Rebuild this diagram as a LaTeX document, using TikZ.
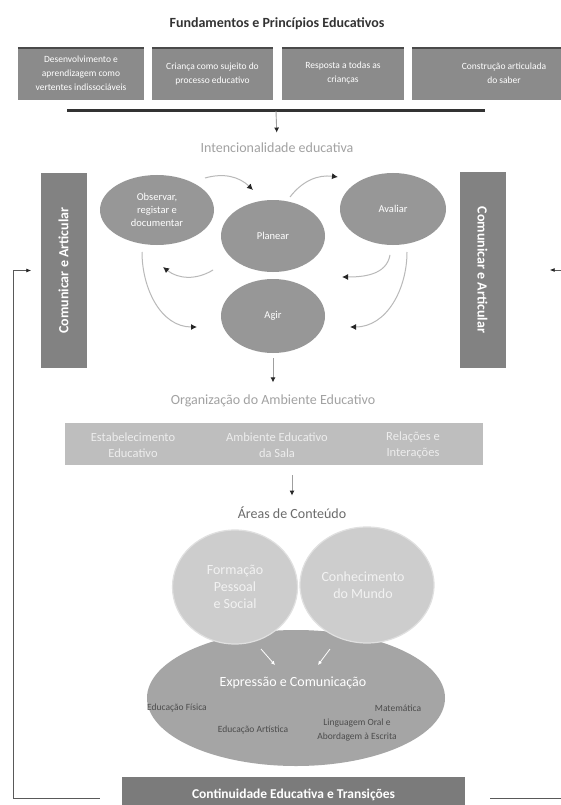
\documentclass[tikz,border=0pt]{standalone}
\usepackage{fontspec}
\setmainfont{Carlito}
\usetikzlibrary{shapes.geometric,arrows.meta,calc}
\definecolor{fundgray}{HTML}{8B8B8B}
\definecolor{stripegray}{HTML}{4A4A4A}
\definecolor{bargray}{HTML}{828282}
\definecolor{cycgray}{HTML}{979797}
\definecolor{orggray}{HTML}{BEBEBE}
\definecolor{areagray}{HTML}{CDCDCD}
\definecolor{exprgray}{HTML}{A5A5A5}
\definecolor{contgray}{HTML}{7B7B7B}
\definecolor{labgray}{HTML}{A2A2A2}
\begin{document}
\begin{tikzpicture}[x=1pt,y=-1pt,
    fund/.style={rectangle,fill=fundgray,text=white,minimum height=53pt,inner sep=1pt,align=center,font=\fontsize{9.5}{14}\selectfont},
    combar/.style={rectangle,fill=bargray,text=white,minimum width=195pt,minimum height=46pt,font=\fontsize{14}{16}\selectfont\bfseries},
    cyc/.style={ellipse,fill=cycgray,text=white,inner sep=0pt,align=center,font=\fontsize{10.5}{13}\selectfont},
    headlab/.style={text=labgray,font=\fontsize{14}{16}\selectfont},
    orgtext/.style={text=white!93!black,align=center,font=\fontsize{12.5}{16}\selectfont},
    area/.style={ellipse,fill=areagray,draw=white!88!black,line width=1.2pt,inner sep=0pt},
    arealab/.style={text=white!95!black,align=center,font=\fontsize{14}{17}\selectfont},
    sublab/.style={text=black!70,align=center,font=\fontsize{9.5}{15}\selectfont},
    flow/.style={draw=gray!75,line width=0.9pt,-{Latex[length=5pt,width=5pt,black!85]}},
    cycarrow/.style={draw=gray!55,line width=1pt,-{Latex[length=6pt,width=6pt,black!85]}},
    back/.style={draw=black!65,line width=0.8pt,-{Latex[length=5pt,width=4pt,black!85]}}]
  \useasboundingbox (0,0) rectangle (560,805);
  \fill[white] (0,0) rectangle (560,805);

  \node[font=\fontsize{14}{16}\selectfont\bfseries,text=black!80] (title) at (277,24) {Fundamentos e Princípios Educativos};
  \node[fund,minimum width=126pt] (fund1) at (81,73.5) {Desenvolvimento e\\aprendizagem como\\vertentes indissociáveis};
  \node[fund,minimum width=121pt] (fund2) at (212.5,73.5) {Criança como sujeito do\\processo educativo};
  \node[fund,minimum width=122pt] (fund3) at (343,73.5) {Resposta a todas as\\crianças};
  \node[fund,minimum width=184pt] (fund4) at (504,73.5) {Construção articulada\\do saber};
  \foreach \f in {fund1,fund2,fund3,fund4}
    \draw[stripegray,line width=2.5pt] ([yshift=-1.25pt]\f.north west) -- ([yshift=-1.25pt]\f.north east);
  \coordinate (lineL) at (67,111);
  \coordinate (lineR) at (485,111);
  \draw[black!80,line width=3pt] (lineL) -- (lineR);

  \node[headlab] (intlab) at (277,148) {Intencionalidade educativa};
  \draw[flow,shorten >=7pt] ($(lineL)!0.5!(lineR)$) -- (intlab.north);

  \node[combar,rotate=90] (comL) at (63.5,270.5) {Comunicar e Articular};
  \node[combar,rotate=-90] (comR) at (482.5,270) {Comunicar e Articular};

  \node[cyc,minimum width=114pt,minimum height=70pt] (obs) at (157,210) {Observar,\\registar e\\documentar};
  \node[cyc,minimum width=104pt,minimum height=72pt] (plan) at (273,236) {Planear};
  \node[cyc,minimum width=106pt,minimum height=72pt] (aval) at (393,209) {Avaliar};
  \node[cyc,minimum width=104pt,minimum height=74pt] (agir) at (273,316) {Agir};

  \draw[cycarrow] ([shift={(48,-32)}]obs.center) to[bend left=30] ([shift={(-20,-46)}]plan.center);
  \draw[cycarrow] ([shift={(17,-39)}]plan.center) to[bend left=30] ([shift={(-55,-32)}]aval.center);
  \draw[cycarrow] ([shift={(-60,34)}]plan.center) to[bend left=35] ([shift={(6,57)}]obs.center);
  \draw[cycarrow] ([shift={(-15,42)}]obs.center) to[out=-90,in=180] ([shift={(-76,11)}]agir.center);
  \draw[cycarrow] ([shift={(-3,46)}]aval.center) to[out=-100,in=0] ([shift={(69,-39)}]agir.center);
  \draw[cycarrow] ([shift={(14,43)}]aval.center) to[out=-90,in=0] ([shift={(77,11)}]agir.center);

  \node[headlab] (orglab) at (273,401) {Organização do Ambiente Educativo};
  \draw[flow,shorten <=5pt,shorten >=9pt] (agir.south) -- (agir.south |- orglab.north);

  \node[rectangle,fill=orggray,minimum width=418pt,minimum height=42pt] (orgbox) at (274,444) {};
  \node[orgtext] (est) at (133,445) {Estabelecimento\\Educativo};
  \node[orgtext] (amb) at (277,445) {Ambiente Educativo\\da Sala};
  \node[orgtext] (rel) at (413,445) {Relações e\\Interações};

  \node[headlab,text=black!58] (areas) at (292,513) {Áreas de Conteúdo};
  \draw[flow,shorten <=10pt,shorten >=8pt] (areas.north |- orgbox.south) -- (areas.north);

  \node[ellipse,fill=exprgray,inner sep=0pt,minimum width=298pt,minimum height=136pt] (expr) at (296,698) {};
  \node[area,minimum width=125pt,minimum height=114pt] (fps) at (235,587) {};
  \node[area,minimum width=134pt,minimum height=116pt] (cdm) at (367,585) {};
  \node[arealab] at (fps.center) {Formação\\Pessoal\\e Social};
  \node[arealab] at ([xshift=-4pt]cdm.center) {Conhecimento\\do Mundo};
  \draw[white,line width=0.8pt,-{Latex[length=4pt,width=4pt]}] ([shift={(26,62)}]fps.center) -- ([shift={(-21,-33)}]expr.center);
  \draw[white,line width=0.8pt,-{Latex[length=4pt,width=4pt]}] ([shift={(-37,64)}]cdm.center) -- ([shift={(22,-33)}]expr.center);

  \node[arealab,text=white] (exprlab) at (293,683) {Expressão e Comunicação};
  \node[sublab] (efis) at (177,708) {Educação Física};
  \node[sublab] (eart) at (253,730) {Educação Artística};
  \node[sublab] (mat) at (398,708) {Matemática};
  \node[sublab,font=\fontsize{9.5}{14}\selectfont] (ling) at (357,730) {Linguagem Oral e\\Abordagem à Escrita};

  \node[rectangle,fill=contgray,text=white,minimum width=343pt,minimum height=36pt,font=\fontsize{13.5}{16}\selectfont\bfseries] (cont) at (293.5,795) {Continuidade Educativa e Transições};

  \coordinate (cornerL) at (13,798);
  \coordinate (cornerR) at (566,798);
  \draw[back,shorten >=9pt] ([xshift=-22pt,yshift=-3pt]cont.west) -- (cornerL) |- (comL.north);
  \draw[back,shorten >=44pt] ([xshift=25pt,yshift=-3pt]cont.east) -- (cornerR) |- (comR.north);
\end{tikzpicture}
\end{document}
